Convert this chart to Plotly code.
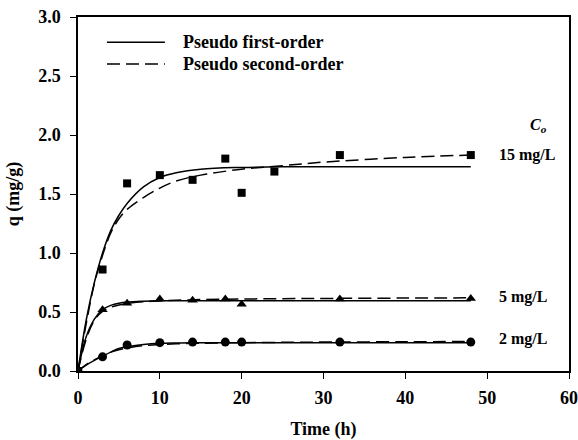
import plotly.graph_objects as go

# Observed data
t_obs = [0, 3, 6, 10, 14, 18, 20, 24, 32, 48]
q15_obs = [0, 0.86, 1.59, 1.66, 1.62, 1.80, 1.51, 1.69, 1.83, 1.83]
t_obs5 = [0, 3, 6, 10, 14, 18, 20, 32, 48]
q5_obs = [0, 0.52, 0.575, 0.61, 0.60, 0.61, 0.565, 0.61, 0.615]
t_obs2 = [0, 3, 6, 10, 14, 18, 20, 32, 48]
q2_obs = [0, 0.12, 0.22, 0.24, 0.245, 0.245, 0.245, 0.245, 0.245]

# Model curves
t_fit = [0, 1, 2, 3, 4, 5, 6, 8, 10, 12, 15, 20, 25, 30, 40, 48]
q15_pfo = [0, 0.43, 0.75, 1.00, 1.19, 1.32, 1.42, 1.56, 1.64, 1.68, 1.71, 1.725, 1.73, 1.73, 1.73, 1.73]
q15_pso = [0, 0.40, 0.74, 0.98, 1.17, 1.29, 1.37, 1.47, 1.55, 1.61, 1.66, 1.71, 1.74, 1.77, 1.81, 1.83]
q5_pfo = [0, 0.29, 0.44, 0.52, 0.556, 0.575, 0.585, 0.592, 0.595, 0.595, 0.595, 0.595, 0.595, 0.595, 0.595, 0.595]
q5_pso = [0, 0.27, 0.43, 0.505, 0.54, 0.56, 0.572, 0.586, 0.594, 0.60, 0.605, 0.61, 0.613, 0.615, 0.618, 0.62]
q2_pfo = [0, 0.05, 0.09, 0.125, 0.16, 0.19, 0.205, 0.225, 0.235, 0.238, 0.24, 0.24, 0.24, 0.24, 0.24, 0.24]
q2_pso = [0, 0.055, 0.095, 0.13, 0.16, 0.18, 0.195, 0.215, 0.225, 0.23, 0.235, 0.24, 0.243, 0.245, 0.248, 0.25]

conc_labels = ["15 mg/L", "5 mg/L", "2 mg/L"]
label_y = [1.83, 0.627, 0.27]
legend_names = ["Pseudo first-order", "Pseudo second-order"]

FONT = "Liberation Serif"
BF = dict(family=FONT, size=16, color="black", weight="bold")
BF18 = dict(family=FONT, size=18, color="black", weight="bold")
DASH = "13px,6px"

fig = go.Figure()

for i, (pfo, pso) in enumerate([(q15_pfo, q15_pso), (q5_pfo, q5_pso), (q2_pfo, q2_pso)]):
    fig.add_trace(go.Scatter(x=t_fit, y=pfo, mode="lines", line=dict(color="black", width=1.5, shape="spline"),
                             showlegend=False, hoverinfo="skip"))
    fig.add_trace(go.Scatter(x=t_fit, y=pso, mode="lines", line=dict(color="black", width=1.5, dash=DASH, shape="spline"),
                             showlegend=False, hoverinfo="skip"))

fig.add_trace(go.Scatter(x=t_obs, y=q15_obs, mode="markers", marker=dict(symbol="square", size=8, color="black"), showlegend=False))
fig.add_trace(go.Scatter(x=t_obs5, y=q5_obs, mode="markers", marker=dict(symbol="triangle-up", size=9, color="black"), showlegend=False))
fig.add_trace(go.Scatter(x=t_obs2, y=q2_obs, mode="markers", marker=dict(symbol="circle", size=9, color="black"), showlegend=False))

# Custom legend (line samples + labels)
leg_y = [0.929, 0.867]
for name, ly, dash in zip(legend_names, leg_y, ["solid", DASH]):
    fig.add_shape(type="line", xref="paper", yref="paper", x0=0.059, x1=0.177, y0=ly, y1=ly,
                  line=dict(color="black", width=1.5, dash=dash))
    fig.add_annotation(xref="paper", yref="paper", x=0.209, y=ly, text=name, showarrow=False,
                       xanchor="left", yanchor="middle", font=BF18)

for lab, yv in zip(conc_labels, label_y):
    fig.add_annotation(x=51.2, y=yv, text=lab, showarrow=False, xanchor="left", font=BF)
fig.add_annotation(x=55.0, y=2.08, text="<i>C<sub>o</sub></i>", showarrow=False, xanchor="left", font=BF)

axis_common = dict(showline=True, linecolor="black", linewidth=1.5, mirror=True, ticks="outside",
                   ticklen=6, tickwidth=1, tickcolor="black", showgrid=False, zeroline=False,
                   tickfont=BF18, automargin=False)
fig.update_xaxes(range=[0, 60], dtick=10, ticklabelstandoff=4,
                 title=dict(text="Time (h)", font=BF18, standoff=22), **axis_common)
fig.update_yaxes(range=[0, 3.0], dtick=0.5, tickformat=".1f", ticklabelstandoff=6,
                 title=dict(text="q (mg/g)", font=BF18, standoff=14), **axis_common)

fig.update_layout(width=578, height=440, margin=dict(l=78, r=9, t=17, b=69),
                  plot_bgcolor="white", paper_bgcolor="white",
                  font=dict(family=FONT, size=16, color="black"), showlegend=False)

fig.write_html("out.html")
